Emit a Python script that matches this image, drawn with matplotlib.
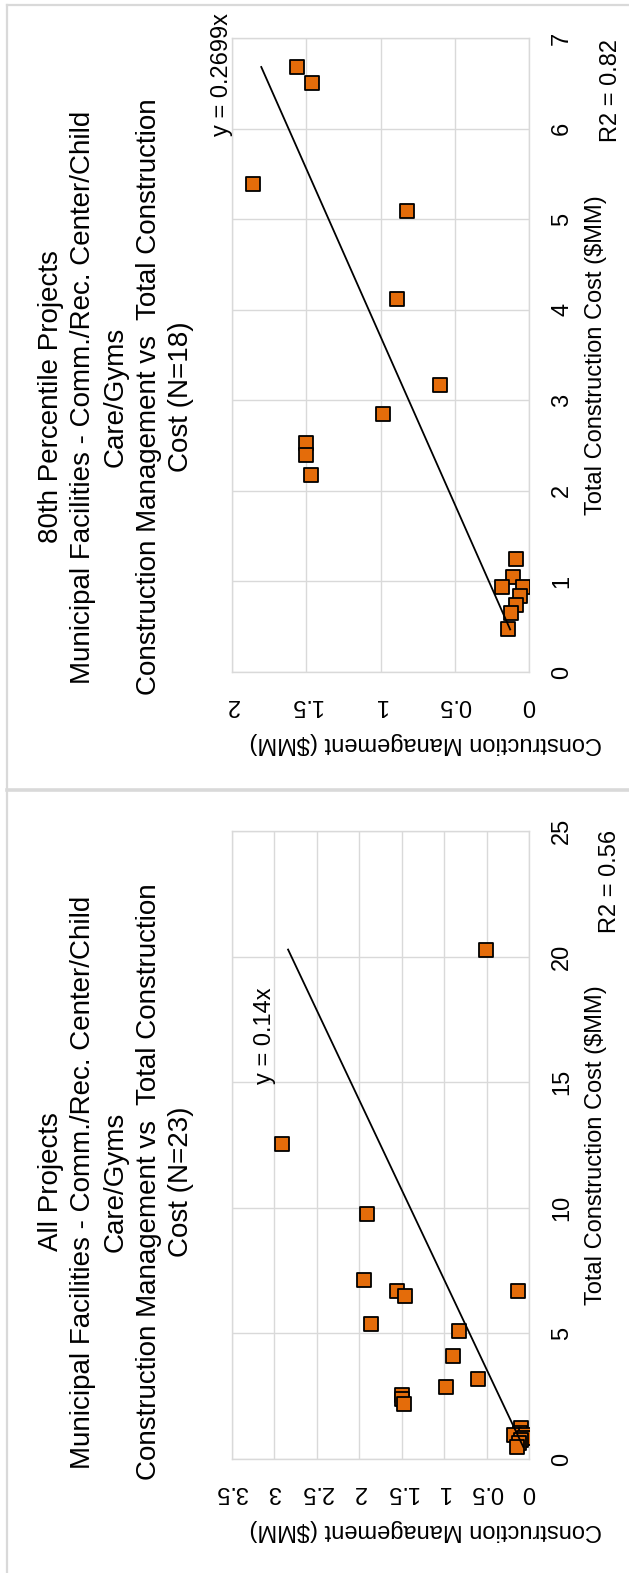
import numpy as np
import matplotlib
matplotlib.use("Agg")
import matplotlib.pyplot as plt
from matplotlib.lines import Line2D

plt.rcParams['font.family'] = ['Liberation Sans', 'DejaVu Sans']

# Data (x = total construction cost, y = construction management, $MM)
all_tc = [12.52, 20.28, 9.74, 7.12, 6.68, 6.50, 5.39, 6.69, 5.09, 4.12, 3.17, 2.85,
          2.53, 2.40, 2.18, 1.25, 1.05, 0.94, 0.94, 0.84, 0.74, 0.65, 0.47]
all_cm = [2.91, 0.51, 1.91, 1.94, 1.56, 1.46, 1.86, 0.13, 0.82, 0.89, 0.60, 0.98,
          1.50, 1.50, 1.47, 0.09, 0.11, 0.18, 0.04, 0.06, 0.09, 0.12, 0.14]

p80_tc = [6.68, 6.50, 5.39, 5.09, 4.12, 3.17, 2.85, 2.53, 2.40, 2.18,
          1.25, 1.05, 0.94, 0.94, 0.84, 0.74, 0.65, 0.47]
p80_cm = [1.56, 1.46, 1.86, 0.82, 0.89, 0.60, 0.98, 1.50, 1.50, 1.47,
          0.09, 0.11, 0.18, 0.04, 0.06, 0.09, 0.12, 0.14]

all_slope = 0.14
p80_slope = 0.2699

all_title = ("All Projects\nMunicipal Facilities - Comm./Rec. Center/Child\nCare/Gyms\n"
             "Construction Management vs  Total Construction\nCost (N=23)")
p80_title = ("80th Percentile Projects\nMunicipal Facilities - Comm./Rec. Center/Child\nCare/Gyms\n"
             "Construction Management vs  Total Construction\nCost (N=18)")

all_cm_ticks = [0, 0.5, 1, 1.5, 2, 2.5, 3, 3.5]
all_cm_labels = ["0", "0.5", "1", "1.5", "2", "2.5", "3", "3.5"]
all_tc_ticks = [0, 5, 10, 15, 20, 25]
p80_cm_ticks = [0, 0.5, 1, 1.5, 2]
p80_cm_labels = ["0", "0.5", "1", "1.5", "2"]
p80_tc_ticks = [0, 1, 2, 3, 4, 5, 6, 7]

W, H = 629, 1573
fig = plt.figure(figsize=(W / 100, H / 100), dpi=100)
GRID = '#D9D9D9'
ORANGE = '#E46C0A'
FS = 17


def px(x, y):
    return x / W, 1 - y / H


def panel(rect, tc, cm, slope, cm_ticks, cm_labels, tc_ticks, eq_text, eq_pos, r2_text, r2_pos):
    left, top, right, bottom = rect
    ax = fig.add_axes([left / W, 1 - bottom / H, (right - left) / W, (bottom - top) / H])
    ax.set_xlim(cm_ticks[-1], 0)
    ax.set_ylim(0, tc_ticks[-1])
    ax.set_xticks(cm_ticks)
    ax.set_xticklabels(cm_labels)
    ax.set_yticks(tc_ticks)
    ax.set_yticklabels([str(t) for t in tc_ticks])
    ax.yaxis.tick_right()
    ax.tick_params(axis='both', length=0, pad=16, labelsize=FS)
    ax.tick_params(axis='x', labelrotation=180)
    ax.tick_params(axis='y', labelrotation=90)
    for t in ax.get_yticklabels():
        t.set_va('center')
    ax.grid(True, color=GRID, lw=1.0)
    ax.set_axisbelow(True)
    for s in ax.spines.values():
        s.set_color(GRID)
        s.set_linewidth(1.0)

    ax.scatter(cm, tc, marker='s', s=88, c=ORANGE, edgecolors='black', linewidths=1.3, zorder=3)
    xs = np.array([min(tc), max(tc)])
    ax.plot(slope * xs, xs, color='black', lw=1.3, zorder=4)

    ax.set_xlabel("Construction Management ($MM)", fontsize=FS, rotation=180, va='center', ha='center')
    ax.xaxis.set_label_coords((426 - left) / (right - left), -71 / (bottom - top))
    ax.yaxis.set_label_position('right')
    ax.set_ylabel("Total Construction Cost ($MM)", fontsize=FS, rotation=90, va='center', ha='center')
    ax.yaxis.set_label_coords((596 - left) / (right - left), 0.5)

    fig.text(*px(*eq_pos), eq_text, fontsize=FS, rotation=90, ha='center', va='center')
    fig.text(*px(*r2_pos), r2_text, fontsize=FS, rotation=90, ha='center', va='center')
    return ax


panel((232, 831, 529, 1459), all_tc, all_cm, all_slope, all_cm_ticks, all_cm_labels, all_tc_ticks,
      "y = 0.14x", (265, 1036), "R2 = 0.56", (610, 881))
panel((232, 38, 529, 672), p80_tc, p80_cm, p80_slope, p80_cm_ticks, p80_cm_labels, p80_tc_ticks,
      "y = 0.2699x", (222, 74), "R2 = 0.82", (611, 90))

fig.text(*px(116, 1182), all_title, fontsize=20, rotation=90, ha='center', va='center',
         multialignment='center', linespacing=1.33)
fig.text(*px(116, 397), p80_title, fontsize=20, rotation=90, ha='center', va='center',
         multialignment='center', linespacing=1.33)

# chart area borders
for xs, ys, lw in [((7, 7), (5, H), 1.6), ((7, W), (5, 5), 1.6), ((7, W), (790, 790), 2.6)]:
    fig.add_artist(Line2D([x / W for x in xs], [1 - y / H for y in ys], color=GRID, lw=lw))

fig.savefig("out.png", dpi=100)
